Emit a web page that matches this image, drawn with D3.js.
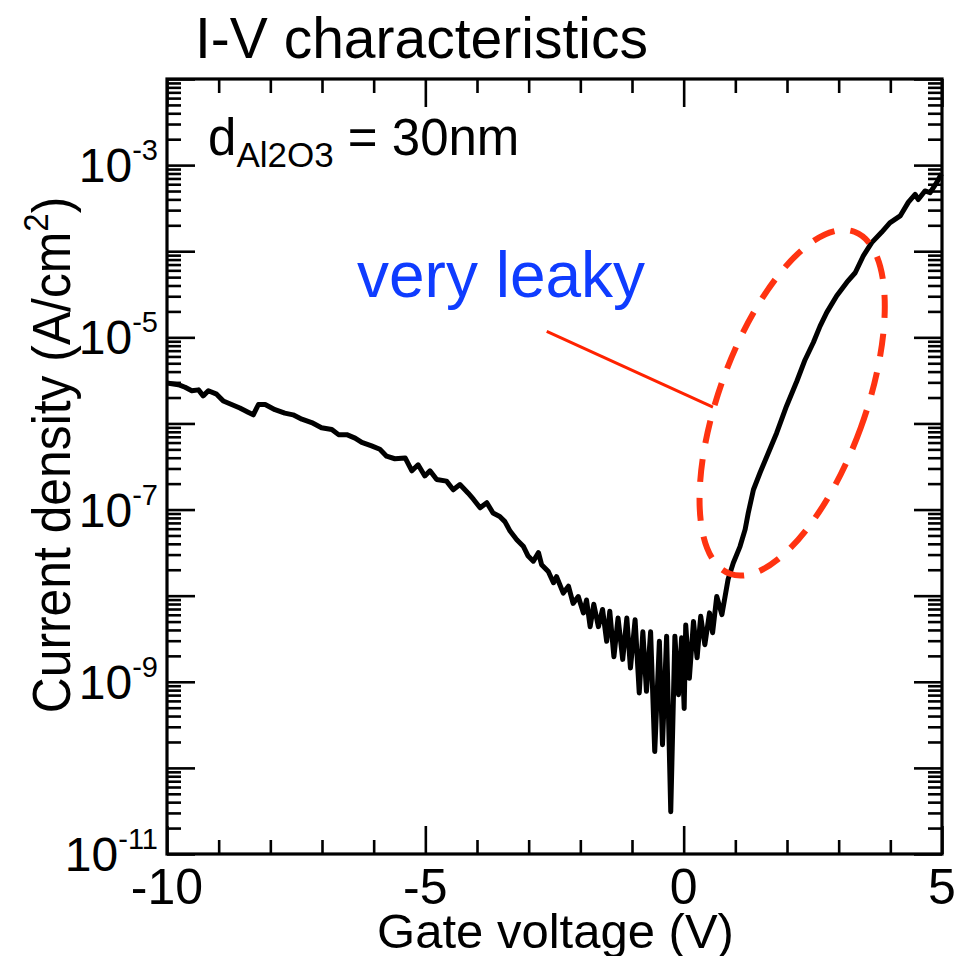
<!DOCTYPE html>
<html>
<head>
<meta charset="utf-8">
<script src="https://cdn.jsdelivr.net/npm/d3@7/dist/d3.min.js"></script>
<style>
  html, body { margin: 0; padding: 0; background: #fff; }
  svg { display: block; }
  text { font-family: "Liberation Sans", Arial, Helvetica, sans-serif; }
</style>
</head>
<body>
<svg id="chart" width="957" height="956"></svg>
<script>
// Gate voltage sweep (V)
const voltage = [
  -10.00, -9.78, -9.65, -9.52, -9.39, -9.30, -9.20, -9.04, -8.91, -8.75,
  -8.59, -8.43, -8.33, -8.23, -8.10, -7.91, -7.72, -7.56, -7.39, -7.20,
  -7.01, -6.81, -6.68, -6.52, -6.36, -6.23, -6.04, -5.88, -5.75, -5.59,
  -5.39, -5.26, -5.14, -5.01, -4.91, -4.78, -4.59, -4.46, -4.33, -4.17,
  -4.07, -3.94, -3.81, -3.69, -3.56, -3.46, -3.36, -3.23, -3.10, -3.01,
  -2.91, -2.81, -2.75, -2.62, -2.52, -2.46, -2.33, -2.23, -2.14, -2.04,
  -1.94, -1.88, -1.81, -1.74, -1.65, -1.57, -1.49, -1.43, -1.35, -1.27,
  -1.18, -1.10, -1.03, -0.94, -0.86, -0.79, -0.72, -0.64, -0.56, -0.47,
  -0.41, -0.33, -0.25, -0.17, -0.10, -0.04, 0.01, 0.04, 0.11, 0.19,
  0.26, 0.33, 0.41, 0.50, 0.56, 0.64, 0.74, 0.86, 0.96, 1.09,
  1.19, 1.25, 1.35, 1.48, 1.64, 1.80, 1.99, 2.19, 2.35, 2.51,
  2.64, 2.77, 2.96, 3.16, 3.32, 3.48, 3.64, 3.83, 3.99, 4.19,
  4.35, 4.48, 4.54, 4.67, 4.77, 4.90, 4.99
];
// log10 of current density (A/cm^2) at each voltage
const logCurrent = [
  -5.53, -5.55, -5.58, -5.62, -5.61, -5.68, -5.62, -5.66, -5.74, -5.78,
  -5.82, -5.87, -5.90, -5.78, -5.78, -5.84, -5.88, -5.90, -5.95, -5.99,
  -6.05, -6.07, -6.13, -6.13, -6.17, -6.22, -6.26, -6.30, -6.38, -6.41,
  -6.40, -6.55, -6.48, -6.61, -6.55, -6.65, -6.67, -6.77, -6.71, -6.81,
  -6.88, -6.98, -6.92, -7.04, -7.08, -7.14, -7.25, -7.35, -7.43, -7.54,
  -7.60, -7.50, -7.64, -7.72, -7.85, -7.78, -7.97, -7.89, -8.09, -8.01,
  -8.20, -8.05, -8.36, -8.10, -8.36, -8.16, -8.53, -8.18, -8.71, -8.26,
  -8.74, -8.26, -8.84, -8.28, -9.13, -8.42, -9.11, -8.42, -9.81, -8.53,
  -9.73, -8.47, -10.51, -8.47, -9.15, -8.49, -9.31, -8.34, -8.96, -8.30,
  -8.72, -8.24, -8.57, -8.20, -8.43, -8.01, -8.22, -7.81, -7.62, -7.43,
  -7.23, -7.04, -6.77, -6.57, -6.34, -6.11, -5.80, -5.51, -5.26, -5.06,
  -4.87, -4.71, -4.52, -4.36, -4.25, -4.05, -3.90, -3.78, -3.67, -3.59,
  -3.43, -3.34, -3.40, -3.30, -3.32, -3.20, -3.10
];

// Axis ticks
const xMajorTicks = [-10, -5, 0, 5];
const xTickLabels = ["-10", "-5", "0", "5"];
const xMinorTicks = [-9, -8, -7, -6, -4, -3, -2, -1, 1, 2, 3, 4];
const yDecades = [-11, -10, -9, -8, -7, -6, -5, -4, -3, -2];
const yLabelledDecades = [-11, -9, -7, -5, -3];
const yMinorMultipliers = [2, 3, 4, 5, 6, 7, 8, 9];

const svg = d3.select("#chart");
const W = 957, H = 956;
const plot = { left: 167, right: 942, top: 79, bottom: 854 };

svg.append("rect").attr("width", W).attr("height", H).attr("fill", "#fff");

const x = d3.scaleLinear().domain([-10, 5]).range([plot.left, plot.right]);
const y = d3.scaleLog().domain([1e-11, 1e-2]).range([plot.bottom, plot.top]);

const majorLen = 28, minorLen = 14;
const tickStroke = 2.6;

const yMajorVals = yDecades.map(e => Math.pow(10, e));
const yMinorVals = [];
yDecades.slice(0, -1).forEach(e => yMinorMultipliers.forEach(m => yMinorVals.push(m * Math.pow(10, e))));

function styleAxis(g) {
  g.select(".domain").remove();
  g.selectAll(".tick line").attr("stroke", "#000").attr("stroke-width", tickStroke);
  g.selectAll(".tick text").remove();
}

// Bottom and top axes (ticks pointing inward)
[[d3.axisBottom, plot.bottom], [d3.axisTop, plot.top]].forEach(([axisFn, pos]) => {
  svg.append("g").attr("transform", `translate(0,${pos})`)
    .call(axisFn(x).tickValues(xMajorTicks).tickSize(-majorLen).tickFormat(""))
    .call(styleAxis);
  svg.append("g").attr("transform", `translate(0,${pos})`)
    .call(axisFn(x).tickValues(xMinorTicks).tickSize(-minorLen).tickFormat(""))
    .call(styleAxis);
});

// Left and right axes (ticks pointing inward)
[[d3.axisLeft, plot.left], [d3.axisRight, plot.right]].forEach(([axisFn, pos]) => {
  svg.append("g").attr("transform", `translate(${pos},0)`)
    .call(axisFn(y).tickValues(yMajorVals).tickSize(-majorLen).tickFormat(""))
    .call(styleAxis);
  svg.append("g").attr("transform", `translate(${pos},0)`)
    .call(axisFn(y).tickValues(yMinorVals).tickSize(-minorLen).tickFormat(""))
    .call(styleAxis);
});

// Frame
svg.append("rect")
  .attr("x", plot.left).attr("y", plot.top)
  .attr("width", plot.right - plot.left).attr("height", plot.bottom - plot.top)
  .attr("fill", "none").attr("stroke", "#000").attr("stroke-width", 3.2);

// X tick labels
svg.append("g").selectAll("text").data(xMajorTicks).join("text")
  .attr("x", d => x(d)).attr("y", 904)
  .attr("text-anchor", "middle").attr("font-size", 50).attr("fill", "#000")
  .text((d, i) => xTickLabels[i]);

// Y tick labels: 10 with superscript exponent
const yLab = svg.append("g").selectAll("text").data(yLabelledDecades).join("text")
  .attr("x", 158).attr("y", d => y(Math.pow(10, d)) + 17)
  .attr("text-anchor", "end").attr("font-size", 48).attr("fill", "#000");
yLab.append("tspan").text("10");
yLab.append("tspan").attr("font-size", 29).attr("dy", -22).text(d => String(d));

// Axis titles
svg.append("text")
  .attr("x", (378 + 733) / 2).attr("y", 948)
  .attr("text-anchor", "middle").attr("font-size", 49).attr("fill", "#000")
  .text("Gate voltage (V)");

const yTitle = svg.append("text")
  .attr("transform", "translate(70,455) rotate(-90) scale(0.94,1)")
  .attr("text-anchor", "middle").attr("font-size", 53).attr("fill", "#000");
yTitle.append("tspan").text("Current density (A/cm");
yTitle.append("tspan").attr("font-size", 35).attr("dy", -22).text("2");
yTitle.append("tspan").attr("dy", 22).text(")");

// Chart title
svg.append("text")
  .attr("x", 195).attr("y", 58)
  .attr("font-size", 57).attr("fill", "#000")
  .text("I-V characteristics");

// Oxide thickness note
const note = svg.append("text").attr("x", 208).attr("y", 155)
  .attr("font-size", 51).attr("fill", "#000");
note.append("tspan").text("d");
note.append("tspan").attr("font-size", 35).attr("dy", 12).text("Al2O3");
note.append("tspan").attr("dy", -12).text(" = 30nm");

// I-V curve
const points = voltage.map((v, i) => [v, Math.pow(10, logCurrent[i])]);
const line = d3.line().x(d => x(d[0])).y(d => y(d[1]));
svg.append("path")
  .datum(points)
  .attr("d", line)
  .attr("fill", "none")
  .attr("stroke", "#000")
  .attr("stroke-width", 5)
  .attr("stroke-linejoin", "round")
  .attr("stroke-linecap", "butt");

// Annotation: leaky region highlighted by a dashed ellipse
const leakCenter = [2.10, 10 ** -5.76];
svg.append("ellipse")
  .attr("cx", 0).attr("cy", 0).attr("rx", 73).attr("ry", 182)
  .attr("transform", `translate(${x(leakCenter[0])},${y(leakCenter[1])}) rotate(20)`)
  .attr("fill", "none")
  .attr("stroke", "#ff3311")
  .attr("stroke-width", 6)
  .attr("stroke-dasharray", "23,16");

// Pointer from label to ellipse
const pointerFrom = [-2.65, 10 ** -4.93];
const pointerTo = [0.567, 10 ** -5.81];
svg.append("line")
  .attr("x1", x(pointerFrom[0])).attr("y1", y(pointerFrom[1]))
  .attr("x2", x(pointerTo[0])).attr("y2", y(pointerTo[1]))
  .attr("stroke", "#ff2200").attr("stroke-width", 3);

svg.append("text")
  .attr("x", 357).attr("y", 297)
  .attr("font-size", 64).attr("fill", "#0f3cff")
  .text("very leaky");
</script>
</body>
</html>
